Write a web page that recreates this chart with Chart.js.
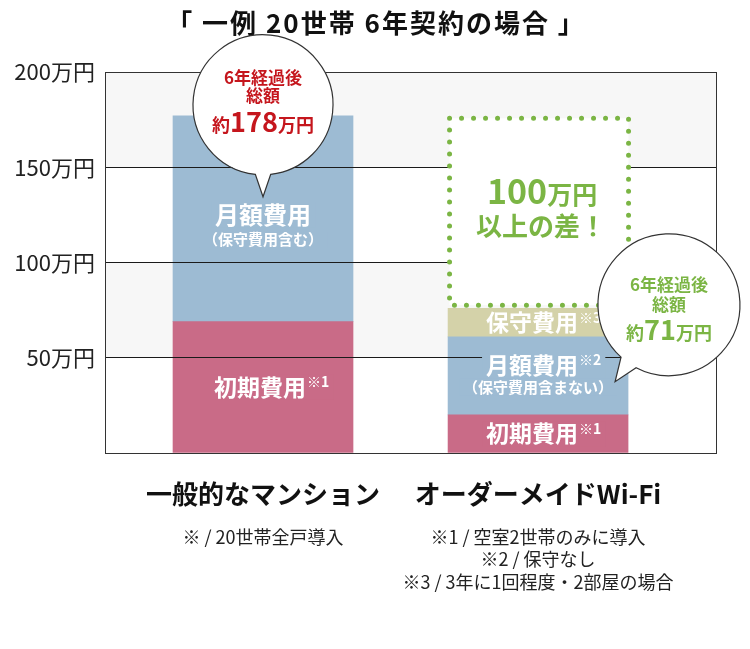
<!DOCTYPE html>
<html><head><meta charset="utf-8">
<script src="https://cdn.jsdelivr.net/npm/chart.js@4.4.1/dist/chart.umd.min.js"></script>
<style>html,body{margin:0;padding:0;background:#fff}#wrap{width:750px;height:649px;position:relative}</style>
</head><body><div id="wrap"><canvas id="c" width="750" height="649"></canvas></div>
<script>
const FONT = '"Noto Sans CJK JP","Noto Sans",sans-serif';
const titleText = '「 一例 20世帯 6年契約の場合 」';
const categories = ['一般的なマンション', 'オーダーメイドWi-Fi'];
const categoryX = [1, 2];
const initialCost = [69, 20];
const monthlyCost = [108, 41];
const maintenanceCost = [null, 15];
const seriesNames = ['初期費用', '月額費用', '保守費用'];
const yTickValues = [0, 50, 100, 150, 200];
const yTickUnit = '万円';
const categoryNotes = [
  ['※ / 20世帯全戸導入'],
  ['※1 / 空室2世帯のみに導入', '※2 / 保守なし', '※3 / 3年に1回程度・2部屋の場合']
];
const totalLabels = ['178', '71'];
const diffLabel = ['100', '万円', '以上の差！'];

const COL = { initial: '#c96b87', monthly: '#9dbbd3', maint: '#d4d2a9', band: '#f7f7f7', red: '#c5161d', green: '#7bb544' };
const toPts = arr => arr.map((v, i) => ({ x: categoryX[i], y: v })).filter(p => p.y != null);

const barLabels = [
  { ds: 0, cat: 0, dx: -3, lines: [{ t: '初期費用', sup: '※1', size: 23, dy: 0 }] },
  { ds: 1, cat: 0, dx: 0, lines: [{ t: '月額費用', size: 24, dy: -4 }, { t: '（保守費用含む）', size: 15, dy: 21 }] },
  { ds: 0, cat: 1, dx: -6, lines: [{ t: '初期費用', sup: '※1', size: 23, dy: 0 }] },
  { ds: 1, cat: 1, dx: -6, lines: [{ t: '月額費用', sup: '※2', size: 23, dy: -11 }, { t: '（保守費用含まない）', size: 15, dy: 11, dx: 6 }] },
  { ds: 2, cat: 1, dx: -6, lines: [{ t: '保守費用', sup: '※3', size: 23, dy: 0 }] }
];
const segColors = [COL.initial, COL.monthly, COL.maint];

function barEl(chart, ds, cat) {
  const idx = chart.data.datasets[ds].data.findIndex(p => p.x === categoryX[cat]);
  return idx < 0 ? null : chart.getDatasetMeta(ds).data[idx];
}

const bandPlugin = {
  id: 'bands',
  beforeDatasetsDraw(chart) {
    const { ctx, chartArea: a, scales: { y } } = chart;
    ctx.save();
    ctx.fillStyle = COL.band;
    [[150, 200], [50, 100]].forEach(([lo, hi]) => {
      const t = y.getPixelForValue(hi), b = y.getPixelForValue(lo);
      ctx.fillRect(a.left, t, a.right - a.left, b - t);
    });
    ctx.restore();
  }
};

function drawBubble(ctx, cx, cy, r, tipX, tipY, half) {
  const dir = Math.atan2(tipY - cy, tipX - cx);
  ctx.beginPath();
  ctx.arc(cx, cy, r, dir + half, dir - half + 2 * Math.PI);
  ctx.lineTo(tipX, tipY);
  ctx.closePath();
  ctx.fillStyle = '#fff';
  ctx.fill();
  ctx.strokeStyle = '#333';
  ctx.lineWidth = 1.2;
  ctx.stroke();
}

function drawMixed(ctx, parts, cx, baseline, color) {
  ctx.fillStyle = color;
  ctx.textBaseline = 'alphabetic';
  ctx.textAlign = 'left';
  let w = 0;
  parts.forEach(p => { ctx.font = `bold ${p.size}px ${FONT}`; p.w = ctx.measureText(p.t).width; w += p.w; });
  let x = cx - w / 2;
  parts.forEach(p => { ctx.font = `bold ${p.size}px ${FONT}`; ctx.fillText(p.t, x, baseline); x += p.w; });
}

const decorPlugin = {
  id: 'decor',
  afterDraw(chart) {
    const { ctx, chartArea: a, scales: { x, y } } = chart;
    ctx.save();
    // title
    ctx.fillStyle = '#111';
    ctx.font = `bold 26px ${FONT}`;
    ctx.textAlign = 'center';
    ctx.textBaseline = 'middle';
    if ('letterSpacing' in ctx) ctx.letterSpacing = '2px';
    ctx.fillText(titleText, chart.width / 2 + 1, 23);
    if ('letterSpacing' in ctx) ctx.letterSpacing = '0px';

    // frame
    ctx.strokeStyle = '#333';
    ctx.lineWidth = 1;
    ctx.strokeRect(Math.round(a.left) + 0.5, Math.round(a.top) + 0.5, Math.round(a.right - a.left), Math.round(a.bottom - a.top));

    // category notes
    ctx.fillStyle = '#222';
    ctx.textAlign = 'center';
    ctx.textBaseline = 'middle';
    ctx.font = `18px ${FONT}`;
    categoryNotes.forEach((lines, i) => {
      const cx = x.getPixelForValue(categoryX[i]);
      lines.forEach((l, k) => ctx.fillText(l, cx, a.bottom + 84 + k * 22.5));
    });

    // bar labels
    barLabels.forEach(lb => {
      const el = barEl(chart, lb.ds, lb.cat);
      if (!el) return;
      const mid = (el.y + el.base) / 2;
      lb.lines.forEach(l => {
        ctx.font = `bold ${l.size}px ${FONT}`;
        const mw = ctx.measureText(l.t).width;
        let sw = 0;
        if (l.sup) { ctx.font = `bold 14px ${FONT}`; sw = ctx.measureText(l.sup).width + 1; }
        const cx = el.x + lb.dx + (l.dx || 0);
        const cy = mid + l.dy;
        ctx.fillStyle = segColors[lb.ds];
        ctx.fillRect(cx - mw / 2 - 4, cy - l.size * 0.55, mw + sw + 8, l.size * 1.1);
        ctx.fillStyle = '#fff';
        ctx.textAlign = 'center';
        ctx.textBaseline = 'middle';
        ctx.font = `bold ${l.size}px ${FONT}`;
        ctx.fillText(l.t, cx, cy);
        if (l.sup) {
          ctx.textAlign = 'left';
          ctx.font = `bold 14px ${FONT}`;
          ctx.fillText(l.sup, cx + mw / 2 + 1, cy - 5);
        }
      });
    });

    // dotted difference box
    const bar1 = barEl(chart, 1, 0);
    const bar2 = barEl(chart, 2, 1);
    const L = bar2.x - bar2.width / 2 + 1.5, R = bar2.x + bar2.width / 2 + 0.5;
    const T = bar1.y + 2.5, B = bar2.y - 3;
    ctx.fillStyle = '#fff';
    ctx.fillRect(L, T, R - L, B - T);
    ctx.strokeStyle = COL.green;
    ctx.lineWidth = 5;
    ctx.lineCap = 'round';
    ctx.setLineDash([0, 12]);
    ctx.beginPath();
    ctx.moveTo(L, T); ctx.lineTo(R, T); ctx.lineTo(R, B); ctx.lineTo(L, B); ctx.closePath();
    ctx.stroke();
    ctx.setLineDash([]);
    ctx.lineCap = 'butt';
    const bm = (T + B) / 2;
    drawMixed(ctx, [{ t: diffLabel[0], size: 34 }, { t: diffLabel[1], size: 25 }], bar2.x + 4, bm - 8, COL.green);
    ctx.font = `bold 26px ${FONT}`;
    ctx.textAlign = 'center';
    ctx.textBaseline = 'middle';
    ctx.fillStyle = COL.green;
    ctx.fillText(diffLabel[2], bar2.x + 3, bm + 14);

    // bubble 1
    const b1x = x.getPixelForValue(1), b1y = y.getPixelForValue(182.8);
    drawBubble(ctx, b1x, b1y, 70, x.getPixelForValue(1), y.getPixelForValue(134.5), 0.11);
    ctx.fillStyle = COL.red;
    ctx.textAlign = 'center';
    ctx.textBaseline = 'middle';
    ctx.font = `bold 17px ${FONT}`;
    ctx.fillText('6年経過後', b1x, b1y - 27);
    ctx.fillText('総額', b1x, b1y - 9);
    drawMixed(ctx, [{ t: '約', size: 18 }, { t: totalLabels[0], size: 27 }, { t: '万円', size: 18 }], b1x, b1y + 27, COL.red);

    // bubble 2
    const b2x = x.getPixelForValue(2.476), b2y = y.getPixelForValue(77.8);
    drawBubble(ctx, b2x, b2y, 71, x.getPixelForValue(2.28), y.getPixelForValue(37.4), 0.13);
    ctx.fillStyle = COL.green;
    ctx.textAlign = 'center';
    ctx.textBaseline = 'middle';
    ctx.font = `bold 17px ${FONT}`;
    ctx.fillText('6年経過後', b2x, b2y - 20);
    ctx.fillText('総額', b2x, b2y);
    drawMixed(ctx, [{ t: '約', size: 18 }, { t: totalLabels[1], size: 27 }, { t: '万円', size: 18 }], b2x, b2y + 35, COL.green);

    ctx.restore();
  }
};

new Chart(document.getElementById('c'), {
  type: 'bar',
  data: {
    datasets: [
      { label: seriesNames[0], data: toPts(initialCost), backgroundColor: COL.initial },
      { label: seriesNames[1], data: toPts(monthlyCost), backgroundColor: COL.monthly },
      { label: seriesNames[2], data: toPts(maintenanceCost), backgroundColor: COL.maint }
    ]
  },
  options: {
    responsive: false,
    animation: false,
    layout: { padding: { left: 0, right: 34, top: 72, bottom: 0 } },
    datasets: { bar: { barThickness: 180, borderWidth: 0 } },
    plugins: {
      legend: { display: false },
      tooltip: { enabled: false },
      title: { display: false }
    },
    scales: {
      x: {
        type: 'linear', min: 0.4255, max: 2.647, stacked: true, offset: false,
        afterBuildTicks: s => { s.ticks = categoryX.map(v => ({ value: v })); },
        afterFit: s => { s.height = 196; },
        grid: { display: false, drawTicks: false },
        border: { display: true, color: '#333', width: 1 },
        ticks: {
          callback: v => categories[categoryX.indexOf(v)],
          font: { family: FONT, size: 26, weight: 'bold' }, color: '#111',
          padding: 26, autoSkip: false, maxRotation: 0
        }
      },
      y: {
        min: 0, max: 200, stacked: true,
        afterBuildTicks: s => { s.ticks = yTickValues.map(v => ({ value: v })); },
        afterFit: s => { s.width = 105; },
        grid: { color: '#1a1a1a', lineWidth: 1, drawTicks: false, z: 1 },
        border: { display: true, color: '#333', z: 1 },
        ticks: {
          callback: v => v === 0 ? '' : v + yTickUnit,
          font: { family: FONT, size: 22 }, color: '#222', padding: 10
        }
      }
    }
  },
  plugins: [bandPlugin, decorPlugin]
});
</script>
</body></html>
